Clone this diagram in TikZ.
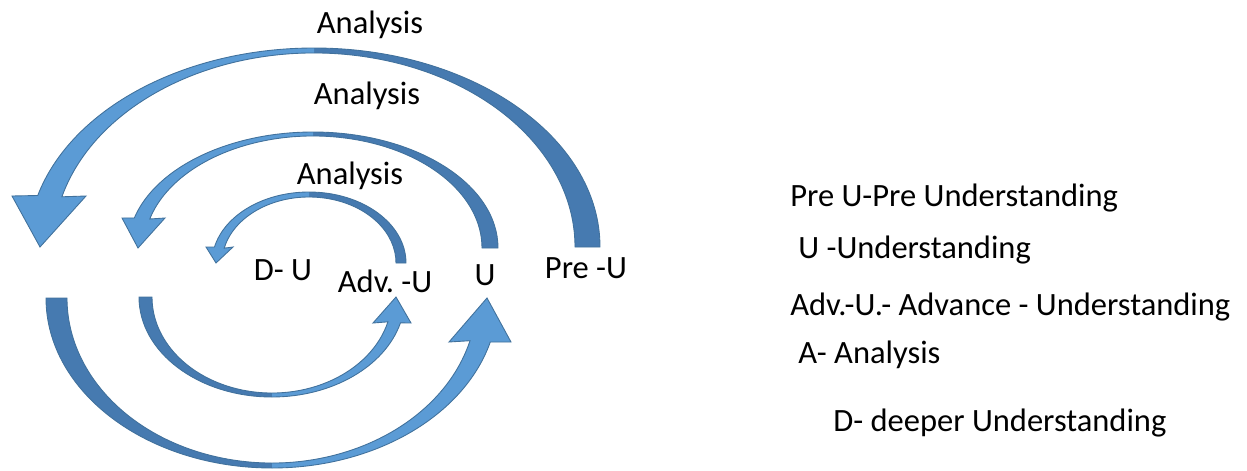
\documentclass[tikz,border=0pt]{standalone}
\usepackage{fontspec}
\setmainfont{Carlito}
\usepackage{tikz}
\usetikzlibrary{calc}
\frenchspacing

\definecolor{arrlight}{RGB}{91,155,213}
\definecolor{arrdark}{RGB}{70,122,176}
\definecolor{arredge}{RGB}{65,113,156}

\begin{document}
\begin{tikzpicture}[x=0.02cm,y=0.02cm,
    lbl/.style={font=\fontsize{18.5}{22}\selectfont, inner sep=0pt},
    lightface/.style={fill=arrlight},
    darkface/.style={fill=arrdark},
    edge/.style={draw=arredge, line width=0.5pt}]
    \useasboundingbox (0,0) rectangle (1247,-470);

    % centres of the curved arrows
    \coordinate (c1) at (314,-247);
    \coordinate (c2) at (313,-248);
    \coordinate (c3) at (309,-263);
    \coordinate (c4) at (272,-298);
    \coordinate (c5) at (272,-297);

    % Outer top arrow (Pre-U -> left)
    \fill[darkface] ($(c1)+(0:286 and 199)$) arc[start angle=0,end angle=90,x radius=286,y radius=199]
        -- ($(c1)+(90:261 and 194)$) arc[start angle=90,end angle=0,x radius=261,y radius=194] -- cycle;
    \fill[lightface] ($(c1)+(90:286 and 199)$) arc[start angle=90,end angle=165,x radius=286,y radius=199]
        -- (12,-196) -- (40,-247) -- (86,-196)
        -- ($(c1)+(165:261 and 194)$) arc[start angle=165,end angle=90,x radius=261,y radius=194] -- cycle;
    \draw[edge] ($(c1)+(0:286 and 199)$) arc[start angle=0,end angle=165,x radius=286,y radius=199]
        -- (12,-196) -- (40,-247) -- (86,-196)
        -- ($(c1)+(165:261 and 194)$) arc[start angle=165,end angle=0,x radius=261,y radius=194] -- cycle;

    % Middle top arrow (U -> left)
    \fill[darkface] ($(c2)+(0:185 and 116)$) arc[start angle=0,end angle=90,x radius=185,y radius=116]
        -- ($(c2)+(90:169 and 112)$) arc[start angle=90,end angle=0,x radius=169,y radius=112] -- cycle;
    \fill[lightface] ($(c2)+(90:185 and 116)$) arc[start angle=90,end angle=165,x radius=185,y radius=116]
        -- (122,-218) -- (138,-248) -- (165,-218)
        -- ($(c2)+(165:169 and 112)$) arc[start angle=165,end angle=90,x radius=169,y radius=112] -- cycle;
    \draw[edge] ($(c2)+(0:185 and 116)$) arc[start angle=0,end angle=165,x radius=185,y radius=116]
        -- (122,-218) -- (138,-248) -- (165,-218)
        -- ($(c2)+(165:169 and 112)$) arc[start angle=165,end angle=0,x radius=169,y radius=112] -- cycle;

    % Inner top arrow (Adv.-U -> D-U)
    \fill[darkface] ($(c3)+(0:97 and 71)$) arc[start angle=0,end angle=90,x radius=97,y radius=71]
        -- ($(c3)+(90:87 and 66)$) arc[start angle=90,end angle=0,x radius=87,y radius=66] -- cycle;
    \fill[lightface] ($(c3)+(90:97 and 71)$) arc[start angle=90,end angle=167,x radius=97,y radius=71]
        -- (206,-247) -- (216,-263) -- (233,-247)
        -- ($(c3)+(167:87 and 66)$) arc[start angle=167,end angle=90,x radius=87,y radius=66] -- cycle;
    \draw[edge] ($(c3)+(0:97 and 71)$) arc[start angle=0,end angle=167,x radius=97,y radius=71]
        -- (206,-247) -- (216,-263) -- (233,-247)
        -- ($(c3)+(167:87 and 66)$) arc[start angle=167,end angle=0,x radius=87,y radius=66] -- cycle;

    % Outer bottom arrow (-> U)
    \fill[darkface] ($(c4)+(180:226 and 170)$) arc[start angle=180,end angle=270,x radius=226,y radius=170]
        -- ($(c4)+(270:205 and 165)$) arc[start angle=270,end angle=180,x radius=205,y radius=165] -- cycle;
    \fill[lightface] ($(c4)+(270:226 and 170)$) arc[start angle=270,end angle=345,x radius=226,y radius=170]
        -- (511,-342) -- (487,-298) -- (449,-342)
        -- ($(c4)+(345:205 and 165)$) arc[start angle=345,end angle=270,x radius=205,y radius=165] -- cycle;
    \draw[edge] ($(c4)+(180:226 and 170)$) arc[start angle=180,end angle=345,x radius=226,y radius=170]
        -- (511,-342) -- (487,-298) -- (449,-342)
        -- ($(c4)+(345:205 and 165)$) arc[start angle=345,end angle=180,x radius=205,y radius=165] -- cycle;

    % Inner bottom arrow (-> Adv.-U)
    \fill[darkface] ($(c5)+(180:133 and 100)$) arc[start angle=180,end angle=270,x radius=133,y radius=100]
        -- ($(c5)+(270:120 and 96)$) arc[start angle=270,end angle=180,x radius=120,y radius=96] -- cycle;
    \fill[lightface] ($(c5)+(270:133 and 100)$) arc[start angle=270,end angle=345,x radius=133,y radius=100]
        -- (411,-323) -- (396,-297) -- (373,-323)
        -- ($(c5)+(345:120 and 96)$) arc[start angle=345,end angle=270,x radius=120,y radius=96] -- cycle;
    \draw[edge] ($(c5)+(180:133 and 100)$) arc[start angle=180,end angle=345,x radius=133,y radius=100]
        -- (411,-323) -- (396,-297) -- (373,-323)
        -- ($(c5)+(345:120 and 96)$) arc[start angle=345,end angle=180,x radius=120,y radius=96] -- cycle;

    % Labels on the arrows
    \node[lbl] (an1) at (370,-25) {Analysis};
    \node[lbl] (an2) at (367,-96) {Analysis};
    \node[lbl] (an3) at (350,-176) {Analysis};
    \node[lbl] (du) at (283,-270) {D- U};
    \node[lbl] (adv) at (385,-281) {Adv. -U};
    \node[lbl] (u) at (485,-275) {U};
    \node[lbl] (pre) at (586,-268) {Pre -U};

    % Key
    \node[lbl,anchor=west] (k1) at (790,-198) {Pre U-Pre Understanding};
    \node[lbl,anchor=west] (k2) at (798,-250) {U -Understanding};
    \node[lbl,anchor=west] (k3) at (790,-307) {Adv.-U.- Advance - Understanding};
    \node[lbl,anchor=west] (k4) at (798,-355) {A- Analysis};
    \node[lbl,anchor=west] (k5) at (833,-423) {D- deeper Understanding};
\end{tikzpicture}
\end{document}
